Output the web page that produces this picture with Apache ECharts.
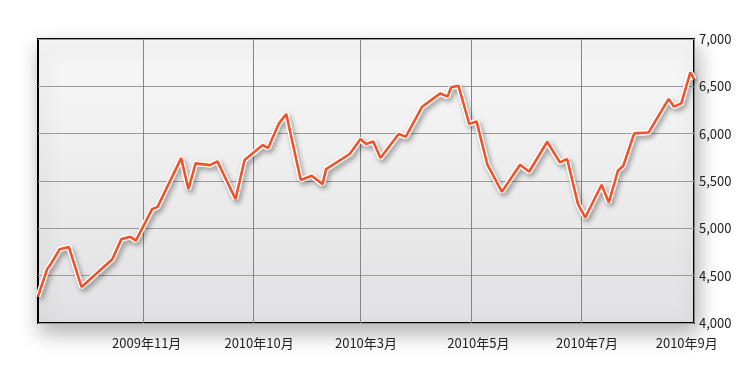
<!DOCTYPE html>
<html>
<head>
<meta charset="utf-8">
<script src="https://cdn.jsdelivr.net/npm/echarts@6/dist/echarts.min.js"></script>
<style>
html,body{margin:0;padding:0;background:#fff;}
#c{width:748px;height:374px;}
</style>
</head>
<body>
<div id="c"></div>
<script>
// x values: days counted from 2009-09-01
const days = [3, 8, 10, 15, 20, 27, 44, 49, 54, 57, 66, 69, 82, 86, 90, 98, 102, 112, 117, 127, 130, 136, 140, 148, 154, 160, 162, 175, 181, 184, 188, 192, 202, 206, 215, 225, 229, 231, 235, 241, 245, 251, 259, 269, 274, 284, 291, 295, 301, 305, 314, 318, 323, 326, 332, 340, 351, 354, 358, 363, 365];
const values = [4280, 4568, 4621, 4780, 4804, 4381, 4674, 4886, 4910, 4870, 5203, 5227, 5742, 5414, 5686, 5668, 5707, 5309, 5721, 5880, 5848, 6109, 6208, 5510, 5555, 5467, 5626, 5785, 5944, 5891, 5918, 5742, 5996, 5968, 6285, 6426, 6391, 6490, 6507, 6102, 6130, 5672, 5386, 5672, 5598, 5915, 5696, 5732, 5256, 5114, 5460, 5273, 5608, 5661, 6003, 6013, 6367, 6285, 6320, 6648, 6578];
const gridDays = [61, 122, 181, 242, 303, 365];
const labelDays = [63, 125, 184, 246, 306, 361];
const xLabels = ['2009年11月', '2010年10月', '2010年3月', '2010年5月', '2010年7月', '2010年9月'];
const yTicks = [4000, 4500, 5000, 5500, 6000, 6500, 7000];

const data = days.map((d, i) => [d, values[i]]);
const chart = echarts.init(document.getElementById('c'), null, {renderer: 'canvas'});
const font = '"Noto Sans CJK JP", "Noto Sans", sans-serif';
chart.setOption({
  animation: false,
  backgroundColor: '#ffffff',
  grid: {
    left: 38, right: 54, top: 39, bottom: 51,
    show: true,
    borderColor: '#000',
    borderWidth: 2,
    backgroundColor: new echarts.graphic.LinearGradient(0, 0, 0, 1, [
      {offset: 0, color: '#f8f8f8'},
      {offset: 1, color: '#e1e1e3'}
    ]),
    shadowColor: 'rgba(0,0,0,0.3)',
    shadowBlur: 20,
    shadowOffsetX: 3,
    shadowOffsetY: 9
  },
  xAxis: {
    type: 'value',
    min: 3, max: 365,
    axisLine: {show: false},
    axisTick: {show: false, customValues: gridDays},
    splitLine: {show: true, lineStyle: {color: '#858585', width: 1}},
    axisLabel: {
      customValues: labelDays,
      margin: 14,
      color: '#222',
      fontSize: 13,
      fontFamily: font,
      formatter: function (v) { const i = labelDays.indexOf(v); return i >= 0 ? xLabels[i] : ''; }
    }
  },
  yAxis: {
    type: 'value',
    position: 'right',
    min: yTicks[0], max: yTicks[yTicks.length - 1], interval: 500,
    axisLine: {show: false},
    axisTick: {show: false},
    splitLine: {show: true, lineStyle: {color: '#9a9a9a', width: 1}},
    axisLabel: {
      margin: 5,
      color: '#222',
      fontSize: 13,
      fontFamily: font,
      formatter: function (v) { return v.toLocaleString('en-US'); }
    }
  },
  series: [
    {
      type: 'line', data: data, symbol: 'none', silent: true,
      lineStyle: {color: '#ffffff', width: 5.5, shadowColor: 'rgba(0,0,0,0.35)', shadowBlur: 5, shadowOffsetX: 2, shadowOffsetY: 3},
      z: 2
    },
    {
      type: 'line', data: data, symbol: 'none', silent: true,
      lineStyle: {color: '#f0522a', width: 2.6},
      z: 3
    }
  ]
});
</script>
</body>
</html>
